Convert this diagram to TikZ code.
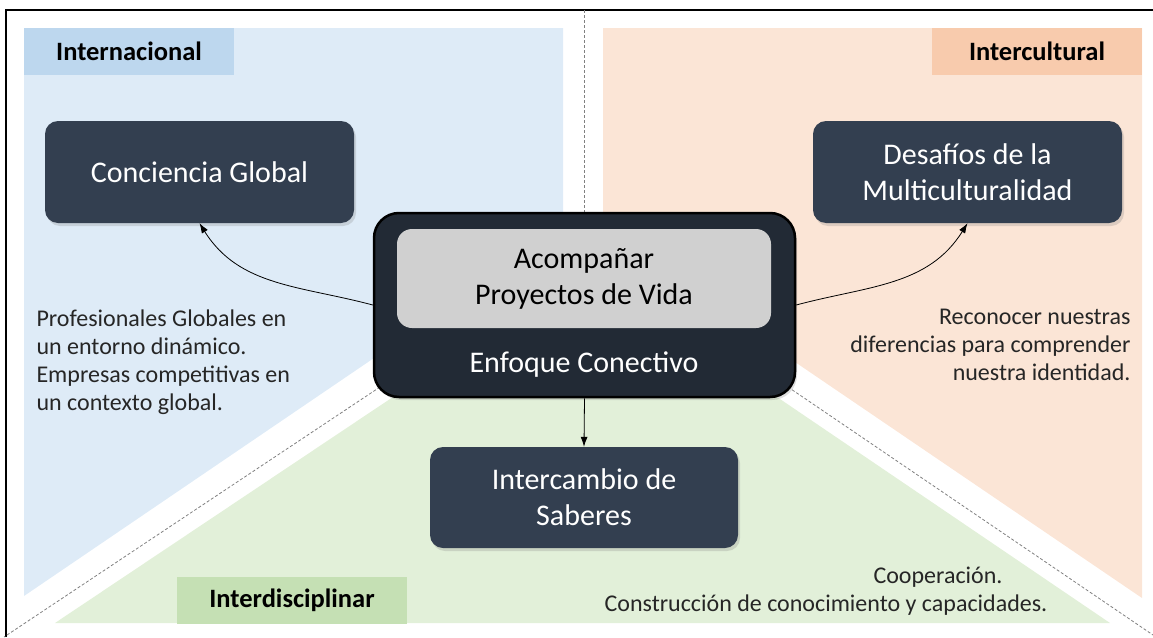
\documentclass[tikz,border=0pt]{standalone}
\usepackage{fontspec}
\setmainfont{Carlito}
\usetikzlibrary{arrows.meta,shadows}
\definecolor{panelblue}{HTML}{DEEBF7}
\definecolor{tabblue}{HTML}{BDD7EE}
\definecolor{panelorange}{HTML}{FBE5D6}
\definecolor{taborange}{HTML}{F8CBAD}
\definecolor{panelgreen}{HTML}{E2F0D9}
\definecolor{tabgreen}{HTML}{C5E0B4}
\definecolor{boxdark}{HTML}{333F50}
\definecolor{hubdark}{HTML}{222A35}
\definecolor{aimgray}{HTML}{D0D0D0}

\begin{document}
\begin{tikzpicture}[x=1pt, y=-1pt,
    topic/.style={rectangle, rounded corners=13pt, fill=boxdark, text=white,
      minimum width=309pt, minimum height=102pt, align=center,
      font=\fontsize{30}{36}\selectfont,
      drop shadow={shadow xshift=2pt, shadow yshift=-3pt, opacity=0.25}},
    tab/.style={rectangle, minimum width=210pt, minimum height=47pt,
      font=\bfseries\fontsize{26.5}{30}\selectfont},
    note/.style={font=\fontsize{24}{28}\selectfont, text=black!85},
    divider/.style={gray, line width=0.8pt, dash pattern=on 3pt off 2pt},
    link/.style={-{Latex[length=10pt,width=7pt]}, line width=0.8pt}]
  \useasboundingbox (0,0) rectangle (1153,637);

  % Panels
  \fill[panelblue] (24,28) -- (563,28) -- (563,300) -- (374,358) -- (24,596) -- cycle;
  \fill[panelorange] (603,28) -- (1142,28) -- (1142,598) -- (795,362) -- (603,300) -- cycle;
  \fill[panelgreen] (55,623) -- (393,397) -- (584,330) -- (777,397) -- (1110,623) -- cycle;

  % Frame and dividers
  \draw[line width=1.5pt] (6,637) -- (6,10) -- (1153,10);
  \draw[divider] (584,10) -- (584,213);
  \draw[divider] (380,387) -- (4,637);
  \draw[divider] (788,387) -- (1153,635);

  % Tabs
  \node[tab, fill=tabblue] (intl) at (129,51.5) {Internacional};
  \node[tab, fill=taborange] (intc) at (1037,51.5) {Intercultural};
  \node[tab, fill=tabgreen, minimum width=230pt] (intd) at (292,600) {Interdisciplinar};

  % Topics
  \node[topic] (global) at (199.5,172) {Conciencia Global};
  \node[topic] (multi) at (967.5,172) {Desafíos de la\\Multiculturalidad};
  \node[topic, minimum width=308pt, minimum height=101pt] (saberes) at (584,497.5) {Intercambio de\\Saberes};

  % Central approach
  \node[rectangle, rounded corners=25pt, fill=hubdark, draw=black, line width=2.5pt,
    minimum width=421pt, minimum height=184pt,
    drop shadow={shadow xshift=2pt, shadow yshift=-3pt, opacity=0.25}] (hub) at (584.5,305) {};
  \node[rectangle, rounded corners=15pt, fill=aimgray, minimum width=374pt, minimum height=99pt,
    align=center, font=\fontsize{30}{36}\selectfont] (aim) at (584,278.5) {Acompañar\\Proyectos de Vida};
  \node[text=white, font=\fontsize{30}{36}\selectfont] (hubname) at (584,365) {Enfoque Conectivo};

  % Notes
  \node[note, anchor=west, align=left] (notel) at (33,362)
    {Profesionales Globales en\\un entorno dinámico.\\Empresas competitivas en\\un contexto global.};
  \node[note, anchor=east, align=right] (noter) at (1134,345)
    {Reconocer nuestras\\diferencias para comprender\\nuestra identidad.};
  \node[note] (coop) at (938,577) {Cooperación.};
  \node[note] (constr) at (826,605) {Construcción de conocimiento y capacidades.};

  % Links
  \draw[link] (hub.west) to[out=165, in=-58] (global.south);
  \draw[link] (hub.east) to[out=15, in=-122] (multi.south);
  \draw[link] (hub.south) -- (saberes.north);
\end{tikzpicture}
\end{document}
